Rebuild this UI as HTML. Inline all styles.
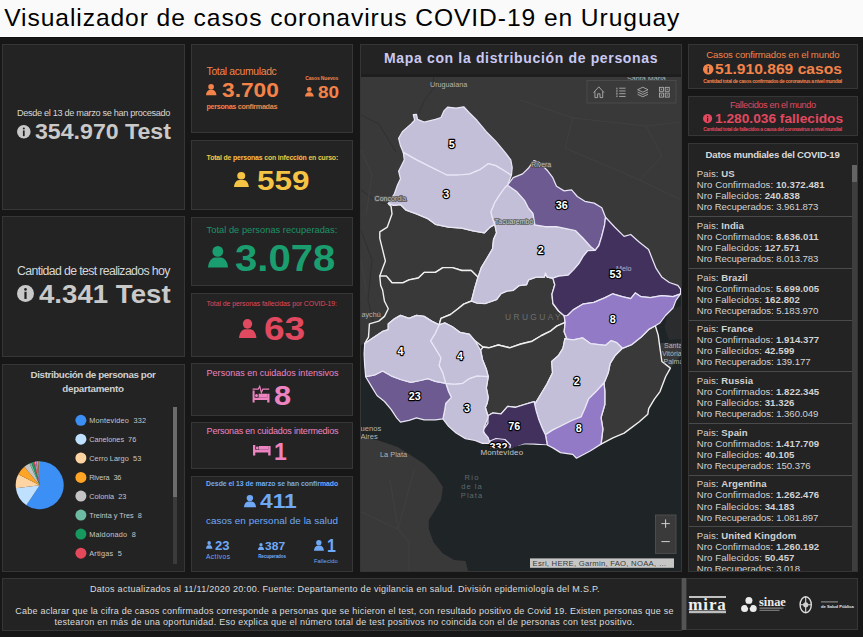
<!DOCTYPE html><html><head><meta charset="utf-8"><title>Visualizador COVID-19 Uruguay</title><style>html,body{margin:0;padding:0}body{width:863px;height:637px;overflow:hidden;position:relative;background:#171717;font-family:"Liberation Sans", sans-serif}.p{position:absolute;background:#232323;border:1px solid #363636}.t{position:absolute;white-space:nowrap}.i{position:absolute;overflow:visible}.b{position:absolute}svg text{font-family:"Liberation Sans", sans-serif}</style></head><body><div class="b" style="left:0;top:0;width:863px;height:36px;background:#fafafa;border-bottom:1px solid #fff"></div><div class="b" style="left:0;top:37px;width:863px;height:1px;background:#0e0e0e"></div><div class="p" style="left:2px;top:44px;width:181px;height:164px;"></div><div class="p" style="left:2px;top:216px;width:181px;height:139px;"></div><div class="p" style="left:2px;top:364px;width:181px;height:206px;"></div><div class="p" style="left:191px;top:44px;width:160px;height:87px;"></div><div class="p" style="left:191px;top:140px;width:160px;height:68px;"></div><div class="p" style="left:191px;top:217px;width:160px;height:67px;"></div><div class="p" style="left:191px;top:293px;width:160px;height:62px;"></div><div class="p" style="left:191px;top:363px;width:160px;height:51px;"></div><div class="p" style="left:191px;top:422px;width:160px;height:45px;"></div><div class="p" style="left:191px;top:476px;width:160px;height:94px;"></div><div class="p" style="left:360px;top:44px;width:320px;height:526px;"></div><div class="p" style="left:688px;top:44px;width:168px;height:43px;"></div><div class="p" style="left:688px;top:96px;width:168px;height:38px;"></div><div class="p" style="left:688px;top:143px;width:168px;height:427px;"></div><div class="p" style="left:2px;top:578px;width:678px;height:51px;"></div><div class="p" style="left:686px;top:578px;width:170px;height:50px;"></div><div class="b" style="left:682px;top:578px;width:4px;height:52px;background:#555"></div><div class="b" style="left:361px;top:74px;width:320px;height:3px;background:#1e1e1e"></div><svg class="i" style="left:361px;top:77px;overflow:hidden" width="320" height="494" viewBox="361 77 320 494"><rect x="361" y="77" width="321" height="494" fill="#393939"/><path d="M361 115 L379 124 388 139 396 152" fill="none" stroke="#303030" stroke-width="1"/><path d="M433.5 77 L434 88 424 101 416.5 119" fill="none" stroke="#303030" stroke-width="1"/><path d="M361 230 L372 260 368 300 375 330" fill="none" stroke="#303030" stroke-width="1"/><path d="M361 190 L375 200 386 204" fill="none" stroke="#303030" stroke-width="1"/><path d="M520 100 L573 118 646 126 681 122" fill="none" stroke="#404040" stroke-width="1"/><path d="M573 118 L565 148 640 180 662 156 646 126" fill="none" stroke="#404040" stroke-width="1"/><path d="M640 180 L681 200" fill="none" stroke="#404040" stroke-width="1"/><path d="M361 512 L398 529 409 542 409 571" fill="none" stroke="#404040" stroke-width="1"/><path d="M390 480 L398 529" fill="none" stroke="#404040" stroke-width="1"/><path d="M414 470 L398 529" fill="none" stroke="#404040" stroke-width="1"/><path d="M361 150 L372 175 366 215" fill="none" stroke="#404040" stroke-width="1"/><path d="M361 260 L366 290" fill="none" stroke="#404040" stroke-width="1"/><polygon points="361.0,345.0 364.7,343.7 364.1,354.1 364.7,365.4 365.7,376.7 371.3,386.1 377.0,395.5 384.5,401.5 391.1,409.4 396.7,417.9 400.5,422.2 409.0,420.4 416.5,417.9 424.1,419.8 435.4,419.8 442.9,418.8 448.6,426.4 456.1,433.0 465.5,438.6 475.0,440.5 482.5,443.4 490.0,443.4 491.0,447.0 497.0,453.0 509.0,452.0 510.0,450.0 517.1,446.9 524.7,444.1 534.1,444.1 547.3,445.0 552.9,447.9 560.5,452.6 572.7,454.4 576.5,458.2 590.6,450.7 601.0,444.1 612.9,437.8 624.2,433.1 631.8,427.4 639.3,421.8 647.8,414.2 648.7,408.6 654.4,399.2 660.0,391.6 665.7,376.5 670.4,368.1 682.0,354.0 682.0,572.0 468.4,572.0 465.5,561.0 454.2,560.1 442.9,553.5 433.5,542.2 428.8,529.0 428.8,520.0 434.0,512.0 441.0,500.0 442.9,487.0 435.4,475.4 424.1,464.1 412.8,456.5 397.7,447.1 378.8,440.5 361.0,436.8" fill="#1f2426"/><polygon points="682.0,289.0 678.0,296.0 675.9,300.4 673.0,308.0 665.5,315.5 659.9,323.0 655.3,325.7 658.0,334.0 659.5,343.0 682.0,343.0" fill="#1f2426"/><polygon points="668.0,311.0 682.0,305.0 682.0,339.0 669.0,340.0 664.5,327.0" fill="#2a2c2d"/><polygon points="388.3,203.6 393.9,205.4 400.5,204.5 406.2,210.2 416.5,213.9 427.8,218.6 435.4,224.3 448.6,227.1 461.8,228.1 473.1,230.9 484.4,232.8 490.0,227.1 494.8,224.3 496.6,232.8 493.6,239.4 492.6,248.8 487.0,258.3 481.3,267.7 477.5,279.0 474.7,288.4 477.8,277.1 471.2,270.5 461.8,270.5 452.4,267.6 442.9,267.6 435.4,272.4 424.1,272.4 418.4,278.0 409.0,279.9 403.3,282.7 392.0,282.7 386.4,276.1 379.8,276.1 382.6,268.6 385.4,261.0 382.6,249.7 379.8,238.4 379.8,231.8 387.3,227.1 392.0,213.9 391.1,206.4" fill="#393939" stroke="#f0f0f0" stroke-width="1.4" stroke-linejoin="round"/><polygon points="379.8,276.1 386.4,276.1 392.0,282.7 403.3,282.7 409.0,279.9 418.4,278.0 424.1,272.4 435.4,272.4 442.9,267.6 452.4,267.6 461.8,270.5 471.2,270.5 477.8,277.1 477.5,279.0 474.7,288.4 471.5,301.0 463.7,304.1 458.0,308.8 450.5,314.5 441.0,318.3 439.2,324.9 431.6,321.1 424.1,316.4 416.5,315.4 409.0,318.3 400.5,315.4 393.9,319.2 388.3,323.9 388.3,329.6 382.6,331.5 371.3,339.0 364.7,343.7 368.5,337.1 369.4,323.9 378.8,321.1 384.5,316.4 388.3,308.8 384.5,301.3 382.6,290.0 380.7,285.5" fill="#393939" stroke="#f0f0f0" stroke-width="1.4" stroke-linejoin="round"/><polygon points="439.2,324.9 441.0,318.3 450.5,314.5 458.0,308.8 463.7,304.1 471.5,301.0 477.0,303.0 485.0,303.5 496.5,299.5 501.0,293.5 507.0,291.0 513.3,290.3 519.0,285.6 526.5,284.7 528.4,279.9 536.0,277.1 544.4,277.1 545.4,273.0 547.3,277.1 552.9,278.1 554.8,284.7 552.0,294.1 552.9,303.5 558.6,311.0 564.2,315.8 565.2,322.3 556.7,326.1 551.0,330.8 541.6,335.5 532.2,341.2 520.9,344.0 509.6,347.8 498.3,345.0 488.8,347.8 483.0,347.0 475.0,340.9 469.3,334.3 459.9,332.4 452.4,326.8 444.8,323.0 439.2,324.9" fill="#393939" stroke="#f0f0f0" stroke-width="1.4" stroke-linejoin="round"/><polygon points="483.0,347.0 488.8,347.8 498.3,345.0 509.6,347.8 520.9,344.0 532.2,341.2 541.6,335.5 551.0,330.8 556.7,326.1 565.2,322.3 564.2,331.8 567.1,339.3 564.9,338.8 563.0,348.3 558.3,355.8 551.7,361.5 552.6,372.8 547.0,384.1 541.3,393.5 535.7,402.9 534.1,401.7 524.7,404.5 515.2,407.3 507.7,406.4 501.1,413.9 492.6,413.0 487.9,415.8 488.2,417.0 485.3,407.5 487.2,403.0 488.2,397.4 486.3,388.0 488.2,376.7 488.2,376.7 486.3,369.2 482.5,359.7 480.6,350.3" fill="#393939" stroke="#f0f0f0" stroke-width="1.4" stroke-linejoin="round"/><polygon points="622.3,348.3 631.8,344.5 641.2,337.0 648.7,329.4 655.3,325.7 658.2,335.1 660.0,348.3 661.9,361.5 670.4,368.1 665.7,376.5 660.0,391.6 654.4,399.2 648.7,408.6 647.8,414.2 639.3,421.8 631.8,427.4 624.2,433.1 612.9,437.8 601.0,444.1 602.9,429.0 601.0,417.7 604.8,404.5 604.8,391.3 604.0,383.0 608.2,372.8 610.1,363.3 614.8,355.8" fill="#393939" stroke="#f0f0f0" stroke-width="1.4" stroke-linejoin="round"/><polygon points="398.6,138.3 402.4,131.7 410.9,124.1 414.7,120.3 413.3,114.7 416.5,114.3 417.5,119.4 424.1,122.2 435.4,119.4 441.0,117.5 443.9,110.9 447.6,107.2 456.1,108.1 463.7,106.8 469.3,112.8 476.9,120.3 486.3,131.7 495.7,141.1 505.1,152.4 510.8,159.9 512.2,167.5 511.5,175.0 510.8,175.0 505.1,171.2 495.7,165.6 488.2,163.7 480.6,169.3 469.3,174.1 458.0,175.0 446.7,175.0 439.2,171.2 427.8,165.6 416.5,159.9 403.3,152.4 400.5,145.8" fill="#c3bfd8" stroke="#e9e6f6" stroke-width="1.25" stroke-linejoin="round"/><polygon points="403.3,152.4 416.5,159.9 427.8,165.6 439.2,171.2 446.7,175.0 458.0,175.0 469.3,174.1 480.6,169.3 488.2,163.7 495.7,165.6 505.1,171.2 510.8,175.0 511.5,175.0 507.5,185.2 505.1,187.5 499.5,195.1 494.8,202.6 491.0,212.0 492.9,219.6 494.8,224.3 494.8,224.3 490.0,227.1 484.4,232.8 473.1,230.9 461.8,228.1 448.6,227.1 435.4,224.3 427.8,218.6 416.5,213.9 406.2,210.2 400.5,204.5 393.9,205.4 388.3,203.6 388.3,203.6 394.5,193.5 397.5,185.0 400.5,178.8 398.6,171.2 400.5,167.5 404.3,159.9 403.3,152.4" fill="#c3bfd8" stroke="#e9e6f6" stroke-width="1.25" stroke-linejoin="round"/><polygon points="507.5,185.2 517.0,191.8 524.5,200.3 528.3,207.8 533.0,213.5 534.9,224.8 545.2,226.7 556.5,226.7 566.0,228.6 575.4,230.5 582.9,238.0 590.5,246.5 595.2,250.3 587.8,250.7 583.1,256.4 579.3,263.0 573.7,269.6 568.0,275.2 558.6,276.2 552.9,278.1 547.3,277.1 545.4,273.0 544.4,277.1 536.0,277.1 528.4,279.9 526.5,284.7 519.0,285.6 513.3,290.3 507.0,291.0 501.0,293.5 496.5,299.5 485.0,303.5 477.0,303.0 471.5,301.0 474.7,288.4 477.5,279.0 481.3,267.7 487.0,258.3 492.6,248.8 493.6,239.4 496.6,232.8 494.8,224.3 494.8,224.3 492.9,219.6 491.0,212.0 494.8,202.6 499.5,195.1 505.1,187.5 507.5,185.2" fill="#c3bfd8" stroke="#e9e6f6" stroke-width="1.25" stroke-linejoin="round"/><polygon points="507.5,185.2 513.2,177.7 522.6,173.9 528.3,168.3 533.9,160.7 539.6,162.6 547.1,170.2 552.8,177.7 556.5,186.2 564.1,190.9 571.6,189.9 577.3,196.5 584.8,201.3 594.2,203.1 601.8,207.8 605.5,217.3 604.6,224.8 601.8,236.1 598.9,245.5 595.2,250.3 595.2,250.3 590.5,246.5 582.9,238.0 575.4,230.5 566.0,228.6 556.5,226.7 545.2,226.7 534.9,224.8 533.0,213.5 528.3,207.8 524.5,200.3 517.0,191.8 507.5,185.2" fill="#6c5a91" stroke="#e9e6f6" stroke-width="1.25" stroke-linejoin="round"/><polygon points="605.5,217.3 614.6,227.0 624.1,236.4 630.7,234.5 639.1,242.0 648.6,249.6 652.3,259.0 656.1,268.4 661.7,276.9 669.3,282.5 677.8,285.4 680.6,289.1 680.6,293.8 673.0,296.7 661.7,295.7 650.4,297.6 641.0,296.7 635.4,292.9 630.7,298.6 622.2,296.7 612.8,293.8 605.2,297.6 593.9,302.3 582.6,304.2 573.2,309.9 567.5,315.5 564.2,315.8 558.6,311.0 552.9,303.5 552.0,294.1 554.8,284.7 552.9,278.1 547.3,277.1 552.9,278.1 558.6,276.2 568.0,275.2 573.7,269.6 579.3,263.0 583.1,256.4 587.8,250.7 595.2,250.3 598.9,245.5 601.8,236.1 604.6,224.8" fill="#42315c" stroke="#e9e6f6" stroke-width="1.25" stroke-linejoin="round"/><polygon points="564.2,315.8 567.5,315.5 573.2,309.9 582.6,304.2 593.9,302.3 605.2,297.6 612.8,293.8 622.2,296.7 630.7,298.6 635.4,292.9 641.0,296.7 650.4,297.6 661.7,295.7 673.0,296.7 680.6,293.8 675.9,300.4 673.0,308.0 665.5,315.5 659.9,323.0 655.3,325.7 648.7,329.4 641.2,337.0 631.8,344.5 622.3,348.3 616.7,342.6 611.0,340.7 605.4,345.4 590.3,343.6 582.8,337.9 573.3,339.8 564.9,338.8 567.1,339.3 564.2,331.8 565.2,322.3" fill="#927ac6" stroke="#e9e6f6" stroke-width="1.25" stroke-linejoin="round"/><polygon points="564.9,338.8 573.3,339.8 582.8,337.9 590.3,343.6 605.4,345.4 611.0,340.7 616.7,342.6 622.3,348.3 614.8,355.8 610.1,363.3 608.2,372.8 604.0,383.0 596.3,391.3 588.7,398.8 585.0,408.3 581.2,416.8 571.8,420.5 562.4,425.2 552.9,429.9 545.4,434.7 542.6,429.0 538.8,419.6 536.0,410.2 534.1,401.7 535.7,402.9 541.3,393.5 547.0,384.1 552.6,372.8 551.7,361.5 558.3,355.8 563.0,348.3 564.9,338.8" fill="#c3bfd8" stroke="#e9e6f6" stroke-width="1.25" stroke-linejoin="round"/><polygon points="604.0,383.0 604.8,391.3 604.8,404.5 601.0,417.7 602.9,429.0 601.0,444.1 590.6,450.7 576.5,458.2 572.7,454.4 560.5,452.6 552.9,447.9 547.3,445.0 545.4,434.7 552.9,429.9 562.4,425.2 571.8,420.5 581.2,416.8 585.0,408.3 588.7,398.8 596.3,391.3 604.0,383.0" fill="#927ac6" stroke="#e9e6f6" stroke-width="1.25" stroke-linejoin="round"/><polygon points="483.2,429.9 487.9,423.3 487.9,415.8 492.6,413.0 501.1,413.9 507.7,406.4 515.2,407.3 524.7,404.5 534.1,401.7 536.0,410.2 538.8,419.6 542.6,429.0 545.4,434.7 547.3,445.0 534.1,444.1 524.7,444.1 517.1,446.9 510.0,450.0 509.0,452.0 497.0,453.0 491.0,447.0 488.8,440.3 485.1,435.6" fill="#42315c" stroke="#e9e6f6" stroke-width="1.25" stroke-linejoin="round"/><polygon points="490.0,441.0 496.0,438.5 505.0,439.5 510.5,445.0 509.0,452.0 497.0,453.0 491.0,447.0" fill="#42315c" stroke="#e9e6f6" stroke-width="1.25" stroke-linejoin="round"/><polygon points="445.8,383.3 454.2,384.2 462.7,383.3 469.3,378.6 476.9,375.8 488.2,376.7 486.3,388.0 488.2,397.4 487.2,403.0 485.3,407.5 488.2,417.0 484.4,426.4 483.4,432.0 488.2,437.7 490.0,443.4 482.5,443.4 475.0,440.5 465.5,438.6 456.1,433.0 448.6,426.4 442.9,418.8 444.8,409.4 445.8,403.1 451.4,397.4 448.6,391.8 445.8,383.3" fill="#c3bfd8" stroke="#e9e6f6" stroke-width="1.25" stroke-linejoin="round"/><polygon points="365.7,376.7 375.1,374.8 382.6,371.0 391.1,375.8 400.5,379.5 410.9,382.3 420.3,380.5 427.8,378.6 435.4,381.4 445.8,383.3 448.6,391.8 451.4,397.4 445.8,403.1 444.8,409.4 442.9,418.8 435.4,419.8 424.1,419.8 416.5,417.9 409.0,420.4 400.5,422.2 396.7,417.9 391.1,409.4 384.5,401.5 377.0,395.5 371.3,386.1" fill="#6c5a91" stroke="#e9e6f6" stroke-width="1.25" stroke-linejoin="round"/><polygon points="364.7,343.7 371.3,339.0 382.6,331.5 388.3,329.6 388.3,323.9 393.9,319.2 400.5,315.4 409.0,318.3 416.5,315.4 424.1,316.4 431.6,321.1 439.2,324.9 435.4,333.3 430.7,340.9 435.4,348.4 441.0,357.8 439.2,365.4 442.9,372.9 445.8,383.3 435.4,381.4 427.8,378.6 420.3,380.5 410.9,382.3 400.5,379.5 391.1,375.8 382.6,371.0 375.1,374.8 365.7,376.7 364.7,365.4 364.1,354.1" fill="#c3bfd8" stroke="#e9e6f6" stroke-width="1.25" stroke-linejoin="round"/><polygon points="439.2,324.9 444.8,323.0 452.4,326.8 459.9,332.4 469.3,334.3 475.0,340.9 480.6,350.3 482.5,359.7 486.3,369.2 488.2,376.7 476.9,375.8 469.3,378.6 462.7,383.3 454.2,384.2 445.8,383.3 442.9,372.9 439.2,365.4 441.0,357.8 435.4,348.4 430.7,340.9 435.4,333.3 439.2,324.9" fill="#c3bfd8" stroke="#e9e6f6" stroke-width="1.25" stroke-linejoin="round"/><text x="430.0" y="87.3" font-size="7.2" fill="#b4b4b4" text-anchor="start" letter-spacing="0.00">Uruguaiana</text><text x="627.0" y="80.5" font-size="7.2" fill="#b4b4b4" text-anchor="start" letter-spacing="0.00">Santa Maria</text><text x="361.5" y="317.0" font-size="7.2" fill="#b4b4b4" text-anchor="start" letter-spacing="0.00">aychú</text><text x="505.0" y="320.0" font-size="8.4" fill="#6e6e6e" text-anchor="start" letter-spacing="2.40">URUGUAY</text><text x="664.0" y="348.0" font-size="7.0" fill="#b4b4b4" text-anchor="start" letter-spacing="0.00">Santa</text><text x="662.0" y="356.0" font-size="7.0" fill="#b4b4b4" text-anchor="start" letter-spacing="0.00">Vitória d</text><text x="663.5" y="363.6" font-size="7.0" fill="#b4b4b4" text-anchor="start" letter-spacing="0.00">Palma</text><text x="360.5" y="430.5" font-size="7.6" fill="#b4b4b4" text-anchor="start" letter-spacing="0.00">uenos</text><text x="360.5" y="439.4" font-size="7.6" fill="#b4b4b4" text-anchor="start" letter-spacing="0.00">Aires</text><text x="380.0" y="457.2" font-size="7.4" fill="#b4b4b4" text-anchor="start" letter-spacing="0.00">La Plata</text><text x="616.0" y="271.2" font-size="7.2" fill="#b4b0c6" text-anchor="start" letter-spacing="0.00">Melo</text><text x="472.0" y="480.3" font-size="7.6" fill="#5d6a70" text-anchor="middle" letter-spacing="1.00">Río</text><text x="472.0" y="489.2" font-size="7.6" fill="#5d6a70" text-anchor="middle" letter-spacing="1.00">de la</text><text x="472.0" y="498.0" font-size="7.6" fill="#5d6a70" text-anchor="middle" letter-spacing="1.00">Plata</text><text x="451.8" y="147.7" font-size="10.8" font-weight="bold" text-anchor="middle" fill="#fff" stroke="#000" stroke-width="2.3" stroke-linejoin="round" paint-order="stroke">5</text><text x="446.3" y="197.9" font-size="10.8" font-weight="bold" text-anchor="middle" fill="#fff" stroke="#000" stroke-width="2.3" stroke-linejoin="round" paint-order="stroke">3</text><text x="561.8" y="208.8" font-size="10.8" font-weight="bold" text-anchor="middle" fill="#fff" stroke="#000" stroke-width="2.3" stroke-linejoin="round" paint-order="stroke">36</text><text x="540.8" y="253.8" font-size="10.8" font-weight="bold" text-anchor="middle" fill="#fff" stroke="#000" stroke-width="2.3" stroke-linejoin="round" paint-order="stroke">2</text><text x="615.6" y="278.0" font-size="10.8" font-weight="bold" text-anchor="middle" fill="#fff" stroke="#000" stroke-width="2.3" stroke-linejoin="round" paint-order="stroke">53</text><text x="612.7" y="322.6" font-size="10.8" font-weight="bold" text-anchor="middle" fill="#fff" stroke="#000" stroke-width="2.3" stroke-linejoin="round" paint-order="stroke">8</text><text x="400.5" y="355.1" font-size="10.8" font-weight="bold" text-anchor="middle" fill="#fff" stroke="#000" stroke-width="2.3" stroke-linejoin="round" paint-order="stroke">4</text><text x="459.9" y="359.8" font-size="10.8" font-weight="bold" text-anchor="middle" fill="#fff" stroke="#000" stroke-width="2.3" stroke-linejoin="round" paint-order="stroke">4</text><text x="414.7" y="399.7" font-size="10.8" font-weight="bold" text-anchor="middle" fill="#fff" stroke="#000" stroke-width="2.3" stroke-linejoin="round" paint-order="stroke">23</text><text x="467.0" y="411.6" font-size="10.8" font-weight="bold" text-anchor="middle" fill="#fff" stroke="#000" stroke-width="2.3" stroke-linejoin="round" paint-order="stroke">3</text><text x="514.3" y="429.6" font-size="10.8" font-weight="bold" text-anchor="middle" fill="#fff" stroke="#000" stroke-width="2.3" stroke-linejoin="round" paint-order="stroke">76</text><text x="498.4" y="450.8" font-size="10.8" font-weight="bold" text-anchor="middle" fill="#fff" stroke="#000" stroke-width="2.3" stroke-linejoin="round" paint-order="stroke">332</text><text x="576.7" y="384.5" font-size="10.8" font-weight="bold" text-anchor="middle" fill="#fff" stroke="#000" stroke-width="2.3" stroke-linejoin="round" paint-order="stroke">2</text><text x="578.8" y="431.8" font-size="10.8" font-weight="bold" text-anchor="middle" fill="#fff" stroke="#000" stroke-width="2.3" stroke-linejoin="round" paint-order="stroke">8</text><text x="374.6" y="201.0" font-size="7.0" fill="#bdbdbd" text-anchor="start" letter-spacing="0.00" stroke="#505050" stroke-width="1.7" stroke-linejoin="round" paint-order="stroke">Concordia</text><text x="531.2" y="166.8" font-size="6.9" fill="#b8b8b8" text-anchor="start" letter-spacing="0.00" stroke="#4c4c4c" stroke-width="1.7" stroke-linejoin="round" paint-order="stroke">Rivera</text><text x="494.8" y="224.4" font-size="7.0" fill="#cfcfcf" text-anchor="start" letter-spacing="0.00" stroke="#5c5c5c" stroke-width="1.7" stroke-linejoin="round" paint-order="stroke">Tacuarembó</text><path d="M483 448.3 L512 448.3 515 446.5 524 444.6 547 445.5 547 457 483 457Z" fill="#1f2426"/><text x="480.4" y="455.0" font-size="8.0" fill="#c4c4c4" text-anchor="start" letter-spacing="0.15">Montevideo</text><rect x="587" y="80.5" width="89" height="22.5" fill="#3a3a3a" stroke="#4a4a4a" stroke-width="1"/><path d="M593.6 92.6 L598.8 86.8 L604 92.6 M594.9 91.3 V97.6 H597.6 V93.8 H600 V97.6 H602.7 V91.3" fill="none" stroke="#b4b4b4" stroke-width="0.85"/><path d="M616.3 88.20 h1.3 M619.2 88.20 h6.4" fill="none" stroke="#b4b4b4" stroke-width="0.85"/><path d="M616.3 90.95 h1.3 M619.2 90.95 h6.4" fill="none" stroke="#b4b4b4" stroke-width="0.85"/><path d="M616.3 93.70 h1.3 M619.2 93.70 h6.4" fill="none" stroke="#b4b4b4" stroke-width="0.85"/><path d="M616.3 96.45 h1.3 M619.2 96.45 h6.4" fill="none" stroke="#b4b4b4" stroke-width="0.85"/><path d="M616.9 88 V96.6" fill="none" stroke="#9a9a9a" stroke-width="0.6"/><path d="M642.8 87.2 l5.2 2.5 -5.2 2.5 -5.2 -2.5z M637.6 92 l5.2 2.5 5.2 -2.5 M637.6 94.3 l5.2 2.5 5.2 -2.5" fill="none" stroke="#b4b4b4" stroke-width="0.85"/><rect x="659.4" y="87.3" width="4" height="4" fill="none" stroke="#b4b4b4" stroke-width="0.85"/><rect x="660.8" y="88.7" width="1.2" height="1.2" fill="#a8a8a8"/><rect x="659.4" y="93.1" width="4" height="4" fill="none" stroke="#b4b4b4" stroke-width="0.85"/><rect x="660.8" y="94.5" width="1.2" height="1.2" fill="#a8a8a8"/><rect x="665.2" y="87.3" width="4" height="4" fill="none" stroke="#b4b4b4" stroke-width="0.85"/><rect x="666.6" y="88.7" width="1.2" height="1.2" fill="#a8a8a8"/><rect x="665.2" y="93.1" width="4" height="4" fill="none" stroke="#b4b4b4" stroke-width="0.85"/><rect x="666.6" y="94.5" width="1.2" height="1.2" fill="#a8a8a8"/><rect x="655.5" y="515" width="20.5" height="38.4" fill="#3a3a3a" stroke="#4d4d4d" stroke-width="1"/><path d="M661.4 523.6h8.4M665.6 519.4v8.4M661.4 541.6h8.4" fill="none" stroke="#d0d0d0" stroke-width="1"/><rect x="530" y="558.4" width="144" height="9.4" fill="#c6c6c6"/><text x="532.6" y="566" font-size="7.7" fill="#3a3a3a" letter-spacing="0.25">Esri, HERE, Garmin, FAO, NOAA, …</text></svg><div class="b" style="left:689px;top:164px;width:168px;height:407px;overflow:hidden"><div class="b" style="left:0;top:52.1px;width:163px;height:1px;background:#4a4a4a"></div><div class="b" style="left:0;top:103.8px;width:163px;height:1px;background:#4a4a4a"></div><div class="b" style="left:0;top:155.5px;width:163px;height:1px;background:#4a4a4a"></div><div class="b" style="left:0;top:207.2px;width:163px;height:1px;background:#4a4a4a"></div><div class="b" style="left:0;top:258.9px;width:163px;height:1px;background:#4a4a4a"></div><div class="b" style="left:0;top:310.6px;width:163px;height:1px;background:#4a4a4a"></div><div class="b" style="left:0;top:362.3px;width:163px;height:1px;background:#4a4a4a"></div></div><div class="b" style="left:852px;top:165px;width:4.5px;height:406px;background:#3e3e3e"></div><div class="b" style="left:852px;top:165px;width:4.5px;height:17px;background:#646464"></div><div class="b" style="left:173.4px;top:406.5px;width:4px;height:157px;background:#3b3b3b"></div><div class="b" style="left:173.4px;top:406.5px;width:4px;height:90.5px;background:#6c6c6c"></div><svg class="i" style="left:0;top:0" width="190" height="637"><path d="M39.70 485.20 L39.70 461.20 A24.00 24.00 0 1 1 26.35 505.14 Z" fill="#3b8ff5"/><path d="M39.70 485.20 L26.35 505.14 A24.00 24.00 0 0 1 15.89 488.23 Z" fill="#bfe0ff"/><path d="M39.70 485.20 L15.89 488.23 A24.00 24.00 0 0 1 18.29 474.35 Z" fill="#ffd4a3"/><path d="M39.70 485.20 L18.29 474.35 A24.00 24.00 0 0 1 24.30 466.80 Z" fill="#ffa424"/><path d="M39.70 485.20 L24.30 466.80 A24.00 24.00 0 0 1 29.51 463.47 Z" fill="#c4c4c4"/><path d="M39.70 485.20 L29.51 463.47 A24.00 24.00 0 0 1 31.51 462.64 Z" fill="#6dbba2"/><path d="M39.70 485.20 L31.51 462.64 A24.00 24.00 0 0 1 33.56 462.00 Z" fill="#189e5e"/><path d="M39.70 485.20 L33.56 462.00 A24.00 24.00 0 0 1 34.88 461.69 Z" fill="#e04a5c"/><path d="M39.70 485.20 L34.88 461.69 A24.00 24.00 0 0 1 35.94 461.50 Z" fill="#f5a3c0"/><path d="M39.70 485.20 L35.94 461.50 A24.00 24.00 0 0 1 37.01 461.35 Z" fill="#a87ad1"/><path d="M39.70 485.20 L37.01 461.35 A24.00 24.00 0 0 1 37.81 461.27 Z" fill="#d9c8f0"/><path d="M39.70 485.20 L37.81 461.27 A24.00 24.00 0 0 1 38.62 461.22 Z" fill="#8a6d3b"/><path d="M39.70 485.20 L38.62 461.22 A24.00 24.00 0 0 1 39.16 461.21 Z" fill="#ffe08a"/><path d="M39.70 485.20 L39.16 461.21 A24.00 24.00 0 0 1 39.70 461.20 Z" fill="#9ad0c2"/></svg><svg class="i" style="left:0;top:0" width="100" height="637"><circle cx="80.9" cy="420.3" r="5.5" fill="#3b8ff5"/></svg><svg class="i" style="left:0;top:0" width="100" height="637"><circle cx="80.9" cy="439.2" r="5.5" fill="#bfe0ff"/></svg><svg class="i" style="left:0;top:0" width="100" height="637"><circle cx="80.9" cy="458.0" r="5.5" fill="#ffd4a3"/></svg><svg class="i" style="left:0;top:0" width="100" height="637"><circle cx="80.9" cy="477.4" r="5.5" fill="#ffa424"/></svg><svg class="i" style="left:0;top:0" width="100" height="637"><circle cx="80.9" cy="496.1" r="5.5" fill="#c4c4c4"/></svg><svg class="i" style="left:0;top:0" width="100" height="637"><circle cx="80.9" cy="515.1" r="5.5" fill="#6dbba2"/></svg><svg class="i" style="left:0;top:0" width="100" height="637"><circle cx="80.9" cy="534.1" r="5.5" fill="#16985f"/></svg><svg class="i" style="left:0;top:0" width="100" height="637"><circle cx="80.9" cy="553.2" r="5.5" fill="#e4485b"/></svg><svg class="i" style="left:17.20px;top:124.70px" width="13.60" height="13.60" viewBox="0 0 20 20"><circle cx="10" cy="10" r="10" fill="#c9c9c9"/><circle cx="10" cy="5.2" r="1.55" fill="#222"/><rect x="8.7" y="8" width="2.6" height="8.4" fill="#222"/></svg><svg class="i" style="left:17.00px;top:284.90px" width="17.00" height="17.00" viewBox="0 0 20 20"><circle cx="10" cy="10" r="10" fill="#c9c9c9"/><circle cx="10" cy="5.2" r="1.55" fill="#222"/><rect x="8.7" y="8" width="2.6" height="8.4" fill="#222"/></svg><svg class="i" style="left:702.80px;top:63.75px" width="10.50" height="10.50" viewBox="0 0 20 20"><circle cx="10" cy="10" r="10" fill="#f4834a"/><circle cx="10" cy="5.2" r="1.55" fill="#222"/><rect x="8.7" y="8" width="2.6" height="8.4" fill="#222"/></svg><svg class="i" style="left:702.80px;top:113.50px" width="9.20" height="9.20" viewBox="0 0 20 20"><circle cx="10" cy="10" r="10" fill="#e0495f"/><circle cx="10" cy="5.2" r="1.55" fill="#222"/><rect x="8.7" y="8" width="2.6" height="8.4" fill="#222"/></svg><svg class="i" style="left:206.1px;top:84px" width="10.4" height="11.3" viewBox="0 0 20 21.4" preserveAspectRatio="none"><circle cx="9.8" cy="5.4" r="5.4" fill="#f4834a"/><path d="M0 21.4 C0.2 16.6 3 11.5 7.2 11.5 H12.8 C17 11.5 19.8 16.6 20 21.4 Z" fill="#f4834a"/></svg><svg class="i" style="left:305.2px;top:86.9px" width="8.7" height="9.6" viewBox="0 0 20 21.4" preserveAspectRatio="none"><circle cx="9.8" cy="5.4" r="5.4" fill="#f4834a"/><path d="M0 21.4 C0.2 16.6 3 11.5 7.2 11.5 H12.8 C17 11.5 19.8 16.6 20 21.4 Z" fill="#f4834a"/></svg><svg class="i" style="left:234.4px;top:171.5px" width="14.8" height="15.1" viewBox="0 0 20 21.4" preserveAspectRatio="none"><circle cx="9.8" cy="5.4" r="5.4" fill="#f6c445"/><path d="M0 21.4 C0.2 16.6 3 11.5 7.2 11.5 H12.8 C17 11.5 19.8 16.6 20 21.4 Z" fill="#f6c445"/></svg><svg class="i" style="left:207.8px;top:246.2px" width="20.0" height="21.5" viewBox="0 0 20 21.4" preserveAspectRatio="none"><circle cx="9.8" cy="5.4" r="5.4" fill="#1b9e6f"/><path d="M0 21.4 C0.2 16.6 3 11.5 7.2 11.5 H12.8 C17 11.5 19.8 16.6 20 21.4 Z" fill="#1b9e6f"/></svg><svg class="i" style="left:238.6px;top:319px" width="17.4" height="19.1" viewBox="0 0 20 21.4" preserveAspectRatio="none"><circle cx="9.8" cy="5.4" r="5.4" fill="#e0495f"/><path d="M0 21.4 C0.2 16.6 3 11.5 7.2 11.5 H12.8 C17 11.5 19.8 16.6 20 21.4 Z" fill="#e0495f"/></svg><svg class="i" style="left:244px;top:494.5px" width="12" height="12.2" viewBox="0 0 20 21.4" preserveAspectRatio="none"><circle cx="9.8" cy="5.4" r="5.4" fill="#6fa9f6"/><path d="M0 21.4 C0.2 16.6 3 11.5 7.2 11.5 H12.8 C17 11.5 19.8 16.6 20 21.4 Z" fill="#6fa9f6"/></svg><svg class="i" style="left:206.1px;top:541.3px" width="6.4" height="7.8" viewBox="0 0 20 21.4" preserveAspectRatio="none"><circle cx="9.8" cy="5.4" r="5.4" fill="#6fa9f6"/><path d="M0 21.4 C0.2 16.6 3 11.5 7.2 11.5 H12.8 C17 11.5 19.8 16.6 20 21.4 Z" fill="#6fa9f6"/></svg><svg class="i" style="left:258.2px;top:542.5px" width="6.1" height="7.0" viewBox="0 0 20 21.4" preserveAspectRatio="none"><circle cx="9.8" cy="5.4" r="5.4" fill="#6fa9f6"/><path d="M0 21.4 C0.2 16.6 3 11.5 7.2 11.5 H12.8 C17 11.5 19.8 16.6 20 21.4 Z" fill="#6fa9f6"/></svg><svg class="i" style="left:313.9px;top:540.4px" width="9.9" height="10.8" viewBox="0 0 20 21.4" preserveAspectRatio="none"><circle cx="9.8" cy="5.4" r="5.4" fill="#6fa9f6"/><path d="M0 21.4 C0.2 16.6 3 11.5 7.2 11.5 H12.8 C17 11.5 19.8 16.6 20 21.4 Z" fill="#6fa9f6"/></svg><svg class="i" style="left:252.10px;top:385.60px" width="17.50" height="16.80" viewBox="0 0 17.5 16.8" preserveAspectRatio="none"><path d="M0.6 4.4h2v7.3h12.6v-4h2.3v8.7h-2.3v-2.3H2.6v2.3h-2z" fill="#ee83c1"/><circle cx="4.5" cy="9.6" r="1.5" fill="#ee83c1"/><path d="M6.6 7.7h8.6v4H6.6z" fill="#ee83c1"/><path d="M0.6 3.2h5.6l1.5-2.8 1.7 6.2 1.4-3.4h6.4" fill="none" stroke="#ee83c1" stroke-width="1.15"/></svg><svg class="i" style="left:253.40px;top:445.40px" width="17.60" height="10.60" viewBox="0 0 17.6 10.6" preserveAspectRatio="none"><path d="M0 0h2.3v4.7h12.9V1h2.4v9.6h-2.4V7.4H2.3v3.2H0z" fill="#ee83c1"/><circle cx="4.3" cy="3" r="1.4" fill="#ee83c1"/><path d="M5.9 1h9.3v3.7H5.9z" fill="#ee83c1"/></svg><svg class="i" style="left:686px;top:578px" width="172" height="52" viewBox="686 578 172 52"><rect x="689" y="596.2" width="37" height="1.6" fill="#e8e8e8"/><rect x="689" y="610.6" width="37" height="2.6" fill="#bdbdbd"/><text x="707.5" y="609.6" font-size="17" font-weight="bold" text-anchor="middle" fill="#f0f0f0" style="font-family:'Liberation Serif',serif" letter-spacing="0.9">mira</text><circle cx="748.9" cy="600.6" r="3.5" fill="#ececec"/><circle cx="744.6" cy="608.4" r="3.5" fill="#ececec"/><circle cx="753.2" cy="608.4" r="3.5" fill="#ececec"/><circle cx="748.9" cy="605.8" r="2.1" fill="#222"/><text x="759" y="605.6" font-size="12.4" font-weight="bold" fill="#ececec" style="font-family:'Liberation Serif',serif">sinae</text><rect x="759.5" y="607.6" width="24" height="1" fill="#9a9a9a"/><rect x="759.5" y="609.8" width="20" height="1" fill="#8a8a8a"/><ellipse cx="805.7" cy="604.8" rx="5.6" ry="8" fill="none" stroke="#dcdcdc" stroke-width="1.4"/><path d="M805.7 597v15.6M800.4 604.8h10.6" stroke="#dcdcdc" stroke-width="1.1"/><circle cx="805.7" cy="604.8" r="2.6" fill="#cfcfcf"/><rect x="821" y="601.4" width="17" height="1" fill="#9a9a9a"/><text x="821" y="608.4" font-size="4.1" font-weight="bold" fill="#e6e6e6">de Salud Pública</text></svg><span class="t" id="t0" style="left:4.20px;top:3.12px;font-size:24.60px;line-height:29.52px;color:#000;letter-spacing:0.927px">Visualizador de casos coronavirus COVID-19 en Uruguay</span><span class="t" id="t1" style="left:17.00px;top:108.11px;font-size:9.20px;line-height:11.04px;color:#d6d6d6;letter-spacing:-0.336px">Desde el 13 de marzo se han procesado</span><span class="t" id="t2" style="left:35.00px;top:120.10px;font-size:21.50px;line-height:25.80px;color:#c9c9c9;font-weight:bold;transform:scaleX(1.0759);transform-origin:0 0">354.970 Test</span><span class="t" id="t3" style="left:17.00px;top:264.12px;font-size:12.30px;line-height:14.76px;color:#d6d6d6;letter-spacing:-0.629px">Cantidad de test realizados hoy</span><span class="t" id="t4" style="left:39.30px;top:279.10px;font-size:26.30px;line-height:31.56px;color:#c9c9c9;font-weight:bold;transform:scaleX(1.0512);transform-origin:0 0">4.341 Test</span><span class="t" id="t5" style="left:30.60px;top:369.12px;font-size:9.80px;line-height:11.76px;color:#cfcfcf;font-weight:bold;letter-spacing:-0.403px">Distribución de personas por</span><span class="t" id="t6" style="left:62.30px;top:383.12px;font-size:9.80px;line-height:11.76px;color:#cfcfcf;font-weight:bold;letter-spacing:-0.289px">departamento</span><span class="t" id="t7" style="left:89.20px;top:417.12px;font-size:7.30px;line-height:8.76px;color:#c6c6c6;letter-spacing:0.217px">Montevideo&nbsp; 332</span><span class="t" id="t8" style="left:89.20px;top:436.12px;font-size:7.30px;line-height:8.76px;color:#c6c6c6;letter-spacing:-0.005px">Canelones&nbsp; 76</span><span class="t" id="t9" style="left:89.20px;top:455.12px;font-size:7.30px;line-height:8.76px;color:#c6c6c6;letter-spacing:0.064px">Cerro Largo&nbsp; 53</span><span class="t" id="t10" style="left:89.20px;top:474.12px;font-size:7.30px;line-height:8.76px;color:#c6c6c6;letter-spacing:-0.118px">Rivera&nbsp; 36</span><span class="t" id="t11" style="left:89.20px;top:493.12px;font-size:7.30px;line-height:8.76px;color:#c6c6c6;letter-spacing:0.028px">Colonia&nbsp; 23</span><span class="t" id="t12" style="left:89.20px;top:512.12px;font-size:7.30px;line-height:8.76px;color:#c6c6c6;letter-spacing:0.015px">Treinta y Tres&nbsp; 8</span><span class="t" id="t13" style="left:89.20px;top:531.12px;font-size:7.30px;line-height:8.76px;color:#c6c6c6;letter-spacing:0.224px">Maldonado&nbsp; 8</span><span class="t" id="t14" style="left:89.20px;top:550.12px;font-size:7.30px;line-height:8.76px;color:#c6c6c6;letter-spacing:0.197px">Artigas&nbsp; 5</span><span class="t" id="t15" style="left:206.60px;top:66.01px;font-size:10.40px;line-height:12.48px;color:#f4834a;letter-spacing:-0.350px">Total acumuladc</span><span class="t" id="t16" style="left:221.62px;top:77.03px;font-size:21.00px;line-height:25.20px;color:#f4834a;font-weight:bold;transform:scaleX(1.0814);transform-origin:0 0">3.700</span><span class="t" id="t17" style="left:206.50px;top:103.06px;font-size:7.20px;line-height:8.64px;color:#f4834a;font-weight:bold;letter-spacing:-0.305px">personas confirmadas</span><span class="t" id="t18" style="left:305.20px;top:75.00px;font-size:5.00px;line-height:6.00px;color:#f4834a;font-weight:bold;letter-spacing:-0.124px">Casos Nuevos</span><span class="t" id="t19" style="left:318.12px;top:83.09px;font-size:16.30px;line-height:19.56px;color:#f4834a;font-weight:bold;transform:scaleX(1.1628);transform-origin:0 0">80</span><span class="t" id="t20" style="left:206.60px;top:154.11px;font-size:6.90px;line-height:8.28px;color:#f6c445;font-weight:bold;letter-spacing:-0.153px">Total de personas con infección en curso:</span><span class="t" id="t21" style="left:257.35px;top:164.07px;font-size:27.80px;line-height:33.36px;color:#f6c445;font-weight:bold;transform:scaleX(1.1332);transform-origin:0 0">559</span><span class="t" id="t22" style="left:206.60px;top:225.04px;font-size:9.30px;line-height:11.16px;color:#1c9369;letter-spacing:0.016px">Total de personas recuperadas:</span><span class="t" id="t23" style="left:235.08px;top:237.09px;font-size:36.30px;line-height:43.56px;color:#1b9e6f;font-weight:bold;transform:scaleX(1.1033);transform-origin:0 0">3.078</span><span class="t" id="t24" style="left:206.60px;top:300.05px;font-size:6.80px;line-height:8.16px;color:#e0495f;letter-spacing:-0.008px">Total de personas fallecidas por COVID-19:</span><span class="t" id="t25" style="left:263.82px;top:309.02px;font-size:33.50px;line-height:40.20px;color:#e0495f;font-weight:bold;transform:scaleX(1.1061);transform-origin:0 0">63</span><span class="t" id="t26" style="left:206.60px;top:368.10px;font-size:9.00px;line-height:10.80px;color:#ee83c1;letter-spacing:0.010px">Personas en cuidados intensivos</span><span class="t" id="t27" style="left:274.11px;top:379.06px;font-size:27.60px;line-height:33.12px;color:#ee83c1;font-weight:bold;transform:scaleX(1.1150);transform-origin:0 0">8</span><span class="t" id="t28" style="left:206.60px;top:426.10px;font-size:9.00px;line-height:10.80px;color:#ee83c1;letter-spacing:-0.200px">Personas en cuidados intermedios</span><span class="t" id="t29" style="left:273.98px;top:437.05px;font-size:24.30px;line-height:29.16px;color:#ee83c1;font-weight:bold;transform:scaleX(0.9454);transform-origin:0 0">1</span><span class="t" id="t30" style="left:206.10px;top:480.11px;font-size:6.90px;line-height:8.28px;color:#6fa9f6;font-weight:bold;letter-spacing:-0.032px">Desde el 13 de marzo se han confirmado</span><span class="t" id="t31" style="left:259.67px;top:490.12px;font-size:19.80px;line-height:23.76px;color:#6fa9f6;font-weight:bold;transform:scaleX(1.1527);transform-origin:0 0">411</span><span class="t" id="t32" style="left:206.00px;top:515.06px;font-size:9.90px;line-height:11.88px;color:#6fa9f6;letter-spacing:0.048px">casos en personal de la salud</span><span class="t" id="t33" style="left:215.37px;top:539.00px;font-size:12.50px;line-height:15.00px;color:#6fa9f6;font-weight:bold;transform:scaleX(1.0458);transform-origin:0 0">23</span><span class="t" id="t34" style="left:206.00px;top:553.04px;font-size:6.60px;line-height:7.92px;color:#6fa9f6;letter-spacing:0.456px">Activos</span><span class="t" id="t35" style="left:265.43px;top:540.02px;font-size:11.00px;line-height:13.20px;color:#6fa9f6;font-weight:bold;transform:scaleX(1.0939);transform-origin:0 0">387</span><span class="t" id="t36" style="left:258.20px;top:554.12px;font-size:4.60px;line-height:5.52px;color:#6fa9f6;font-weight:bold;letter-spacing:-0.131px">Recuperados</span><span class="t" id="t37" style="left:326.60px;top:536.08px;font-size:18.20px;line-height:21.84px;color:#6fa9f6;font-weight:bold;transform:scaleX(0.8752);transform-origin:0 0">1</span><span class="t" id="t38" style="left:313.90px;top:558.02px;font-size:5.80px;line-height:6.96px;color:#6fa9f6;letter-spacing:0.087px">Fallecido</span><span class="t" id="t39" style="left:384.00px;top:50.10px;font-size:14.00px;line-height:16.80px;color:#cac9f3;font-weight:bold;letter-spacing:0.657px">Mapa con la distribución de personas</span><span class="t" id="t40" style="left:706.30px;top:49.12px;font-size:9.60px;line-height:11.52px;color:#f4834a;letter-spacing:-0.153px">Casos confirmados en el mundo</span><span class="t" id="t41" style="left:715.35px;top:60.06px;font-size:15.10px;line-height:18.12px;color:#f4834a;font-weight:bold;transform:scaleX(1.0364);transform-origin:0 0">51.910.869 casos</span><span class="t" id="t42" style="left:703.30px;top:78.00px;font-size:5.00px;line-height:6.00px;color:#f4834a;font-weight:bold;letter-spacing:-0.359px">Cantidad total de casos confirmados de coronavirus a nivel mundial</span><span class="t" id="t43" style="left:729.90px;top:100.11px;font-size:9.20px;line-height:11.04px;color:#e0495f;letter-spacing:-0.399px">Fallecidos en el mundo</span><span class="t" id="t44" style="left:714.53px;top:111.09px;font-size:13.40px;line-height:16.08px;color:#e0495f;font-weight:bold;transform:scaleX(1.0243);transform-origin:0 0">1.280.036 fallecidos</span><span class="t" id="t45" style="left:703.30px;top:126.00px;font-size:5.00px;line-height:6.00px;color:#e0495f;font-weight:bold;letter-spacing:-0.328px">Cantidad total de fallecidos a causa del coronavirus a nivel mundial</span><span class="t" id="t46" style="left:705.60px;top:149.12px;font-size:9.60px;line-height:11.52px;color:#dadada;font-weight:bold;letter-spacing:-0.223px">Datos mundiales del COVID-19</span><span class="t" id="t47" style="left:90.00px;top:584.10px;font-size:9.00px;line-height:10.80px;color:#dcdcdc;letter-spacing:0.267px">Datos actualizados al 11/11/2020 20:00. Fuente: Departamento de vigilancia en salud. División epidemiología del M.S.P.</span><span class="t" id="t48" style="left:15.30px;top:606.10px;font-size:9.00px;line-height:10.80px;color:#dcdcdc;letter-spacing:0.224px">Cabe aclarar que la cifra de casos confirmados corresponde a personas que se hicieron el test, con resultado positivo de Covid 19. Existen personas que se</span><span class="t" id="t49" style="left:54.50px;top:617.10px;font-size:9.00px;line-height:10.80px;color:#dcdcdc;letter-spacing:0.272px">testearon en más de una oportunidad. Eso explica que el número total de test positivos no coincida con el de personas con test positivo.</span><div class="b" style="left:0;top:0;width:857px;height:571px;overflow:hidden;clip-path:inset(164px 0 0 0)"><span class="t" id="t50" style="left:696.80px;top:168.12px;font-size:9.60px;line-height:11.52px;color:#d2d2d2;letter-spacing:0.075px">Pais: <b>US</b></span><span class="t" id="t51" style="left:696.80px;top:179.12px;font-size:9.60px;line-height:11.52px;color:#d2d2d2;letter-spacing:0.075px">Nro Confirmados: <b>10.372.481</b></span><span class="t" id="t52" style="left:696.80px;top:190.12px;font-size:9.60px;line-height:11.52px;color:#d2d2d2;letter-spacing:0.075px">Nro Fallecidos: <b>240.838</b></span><span class="t" id="t53" style="left:696.80px;top:201.12px;font-size:9.60px;line-height:11.52px;color:#d2d2d2;letter-spacing:-0.065px">Nro Recuperados: 3.961.873</span><span class="t" id="t54" style="left:696.80px;top:220.12px;font-size:9.60px;line-height:11.52px;color:#d2d2d2;letter-spacing:0.075px">Pais: <b>India</b></span><span class="t" id="t55" style="left:696.80px;top:231.12px;font-size:9.60px;line-height:11.52px;color:#d2d2d2;letter-spacing:0.075px">Nro Confirmados: <b>8.636.011</b></span><span class="t" id="t56" style="left:696.80px;top:242.12px;font-size:9.60px;line-height:11.52px;color:#d2d2d2;letter-spacing:0.075px">Nro Fallecidos: <b>127.571</b></span><span class="t" id="t57" style="left:696.80px;top:253.12px;font-size:9.60px;line-height:11.52px;color:#d2d2d2;letter-spacing:-0.065px">Nro Recuperados: 8.013.783</span><span class="t" id="t58" style="left:696.80px;top:272.12px;font-size:9.60px;line-height:11.52px;color:#d2d2d2;letter-spacing:0.075px">Pais: <b>Brazil</b></span><span class="t" id="t59" style="left:696.80px;top:283.12px;font-size:9.60px;line-height:11.52px;color:#d2d2d2;letter-spacing:0.075px">Nro Confirmados: <b>5.699.005</b></span><span class="t" id="t60" style="left:696.80px;top:294.12px;font-size:9.60px;line-height:11.52px;color:#d2d2d2;letter-spacing:0.075px">Nro Fallecidos: <b>162.802</b></span><span class="t" id="t61" style="left:696.80px;top:305.12px;font-size:9.60px;line-height:11.52px;color:#d2d2d2;letter-spacing:-0.065px">Nro Recuperados: 5.183.970</span><span class="t" id="t62" style="left:696.80px;top:323.12px;font-size:9.60px;line-height:11.52px;color:#d2d2d2;letter-spacing:0.075px">Pais: <b>France</b></span><span class="t" id="t63" style="left:696.80px;top:334.12px;font-size:9.60px;line-height:11.52px;color:#d2d2d2;letter-spacing:0.075px">Nro Confirmados: <b>1.914.377</b></span><span class="t" id="t64" style="left:696.80px;top:345.12px;font-size:9.60px;line-height:11.52px;color:#d2d2d2;letter-spacing:0.075px">Nro Fallecidos: <b>42.599</b></span><span class="t" id="t65" style="left:696.80px;top:356.12px;font-size:9.60px;line-height:11.52px;color:#d2d2d2;letter-spacing:-0.065px">Nro Recuperados: 139.177</span><span class="t" id="t66" style="left:696.80px;top:375.12px;font-size:9.60px;line-height:11.52px;color:#d2d2d2;letter-spacing:0.075px">Pais: <b>Russia</b></span><span class="t" id="t67" style="left:696.80px;top:386.12px;font-size:9.60px;line-height:11.52px;color:#d2d2d2;letter-spacing:0.075px">Nro Confirmados: <b>1.822.345</b></span><span class="t" id="t68" style="left:696.80px;top:397.12px;font-size:9.60px;line-height:11.52px;color:#d2d2d2;letter-spacing:0.075px">Nro Fallecidos: <b>31.326</b></span><span class="t" id="t69" style="left:696.80px;top:408.12px;font-size:9.60px;line-height:11.52px;color:#d2d2d2;letter-spacing:-0.065px">Nro Recuperados: 1.360.049</span><span class="t" id="t70" style="left:696.80px;top:427.12px;font-size:9.60px;line-height:11.52px;color:#d2d2d2;letter-spacing:0.075px">Pais: <b>Spain</b></span><span class="t" id="t71" style="left:696.80px;top:438.12px;font-size:9.60px;line-height:11.52px;color:#d2d2d2;letter-spacing:0.075px">Nro Confirmados: <b>1.417.709</b></span><span class="t" id="t72" style="left:696.80px;top:449.12px;font-size:9.60px;line-height:11.52px;color:#d2d2d2;letter-spacing:0.075px">Nro Fallecidos: <b>40.105</b></span><span class="t" id="t73" style="left:696.80px;top:460.12px;font-size:9.60px;line-height:11.52px;color:#d2d2d2;letter-spacing:-0.065px">Nro Recuperados: 150.376</span><span class="t" id="t74" style="left:696.80px;top:478.12px;font-size:9.60px;line-height:11.52px;color:#d2d2d2;letter-spacing:0.075px">Pais: <b>Argentina</b></span><span class="t" id="t75" style="left:696.80px;top:489.12px;font-size:9.60px;line-height:11.52px;color:#d2d2d2;letter-spacing:0.075px">Nro Confirmados: <b>1.262.476</b></span><span class="t" id="t76" style="left:696.80px;top:501.12px;font-size:9.60px;line-height:11.52px;color:#d2d2d2;letter-spacing:0.075px">Nro Fallecidos: <b>34.183</b></span><span class="t" id="t77" style="left:696.80px;top:512.12px;font-size:9.60px;line-height:11.52px;color:#d2d2d2;letter-spacing:-0.065px">Nro Recuperados: 1.081.897</span><span class="t" id="t78" style="left:696.80px;top:530.12px;font-size:9.60px;line-height:11.52px;color:#d2d2d2;letter-spacing:0.075px">Pais: <b>United Kingdom</b></span><span class="t" id="t79" style="left:696.80px;top:541.12px;font-size:9.60px;line-height:11.52px;color:#d2d2d2;letter-spacing:0.075px">Nro Confirmados: <b>1.260.192</b></span><span class="t" id="t80" style="left:696.80px;top:552.12px;font-size:9.60px;line-height:11.52px;color:#d2d2d2;letter-spacing:0.075px">Nro Fallecidos: <b>50.457</b></span><span class="t" id="t81" style="left:696.80px;top:563.12px;font-size:9.60px;line-height:11.52px;color:#d2d2d2;letter-spacing:-0.065px">Nro Recuperados: 3.018</span></div></body></html>
